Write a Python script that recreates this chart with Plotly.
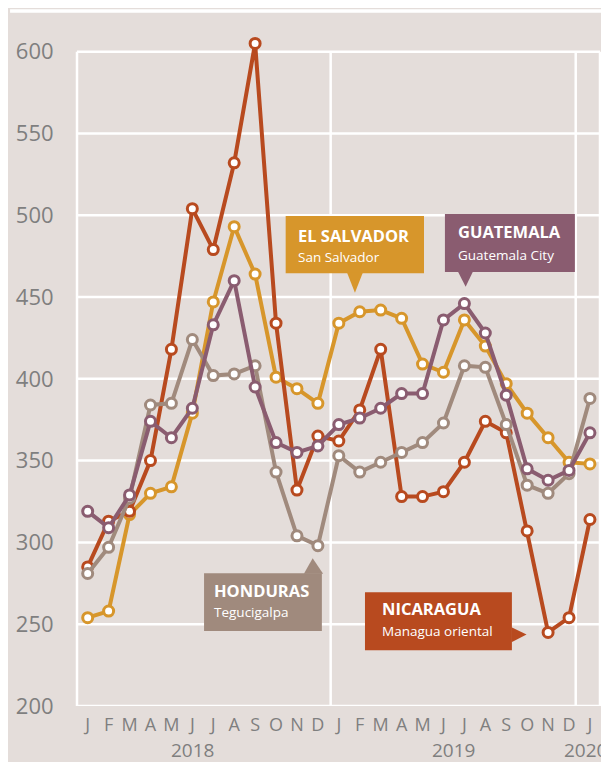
import plotly.graph_objects as go

months = ["J","F","M","A","M","J","J","A","S","O","N","D",
          "J","F","M","A","M","J","J","A","S","O","N","D","J"]
years = ["2018", "2019", "2020"]

el_salvador = [254, 258, 317, 330, 334, 379, 447, 493, 464, 401, 394, 385,
               434, 441, 442, 437, 409, 404, 436, 420, 397, 379, 364, 349, 348]
nicaragua = [285, 313, 319, 350, 418, 504, 479, 532, 605, 434, 332, 365,
             362, 381, 418, 328, 328, 331, 349, 374, 367, 307, 245, 254, 314]
honduras = [281, 297, 327, 384, 385, 424, 402, 403, 408, 343, 304, 298,
            353, 343, 349, 355, 361, 373, 408, 407, 372, 335, 330, 342, 388]
guatemala = [319, 309, 329, 374, 364, 382, 433, 460, 395, 361, 355, 359,
             372, 376, 382, 391, 391, 436, 446, 428, 390, 345, 338, 344, 367]

BG = "#E4DDDA"
C_ES = "#D7962B"
C_NI = "#B84A1F"
C_HO = "#A08A7D"
C_GU = "#8A5C70"
TICK = "#7F7F7F"
FONT = "Open Sans"

YMIN, YMAX, YTOP = 200, 600, 612
PX_PER_UNIT = 1.635
PLOT_H = (YTOP - YMIN) * PX_PER_UNIT
BOTTOM_PY = 705.7
def paper_y(py):
    return (BOTTOM_PY - py) / PLOT_H

x = list(range(len(months)))

fig = go.Figure()
for name, vals, col in [("El Salvador", el_salvador, C_ES),
                        ("Nicaragua", nicaragua, C_NI),
                        ("Honduras", honduras, C_HO),
                        ("Guatemala", guatemala, C_GU)]:
    fig.add_trace(go.Scatter(
        x=x, y=vals, mode="lines+markers", name=name,
        line=dict(color=col, width=4),
        marker=dict(size=10, color="white", line=dict(color=col, width=3)),
        cliponaxis=False, showlegend=False, hoverinfo="skip"))

shapes = []
for v in range(YMIN, YMAX + 1, 50):
    shapes.append(dict(type="line", xref="paper", yref="y", x0=0, x1=1, y0=v, y1=v,
                       line=dict(color="white", width=2.5), layer="below"))
for xp in [0, 1]:
    shapes.append(dict(type="line", xref="paper", yref="y", x0=xp, x1=xp, y0=YMIN, y1=YMAX,
                       line=dict(color="white", width=2.5), layer="below"))
for xs in [11.61, 23.32]:
    shapes.append(dict(type="line", xref="x", yref="y", x0=xs, x1=xs, y0=YMIN, y1=YMAX,
                       line=dict(color="white", width=2.5), layer="below"))
shapes.append(dict(type="line", xref="paper", yref="paper", x0=-0.128, x1=1.03,
                   y0=paper_y(11), y1=paper_y(11), line=dict(color="white", width=3.5)))

annotations = []

def label_box(x0, x1, y0, y1, tri, col, title, sub, tx, ty1, ty2):
    shapes.append(dict(type="rect", xref="x", yref="y", x0=x0, x1=x1, y0=y0, y1=y1,
                       fillcolor=col, line=dict(width=0), layer="above"))
    path = "M {} {} L {} {} L {} {} Z".format(*tri)
    shapes.append(dict(type="path", xref="x", yref="y", path=path,
                       fillcolor=col, line=dict(width=0), layer="above"))
    annotations.append(dict(x=tx, y=ty1, xref="x", yref="y", text="<b>" + title + "</b>",
                            showarrow=False, xanchor="left", yanchor="middle",
                            font=dict(family=FONT, size=16.5, color="white")))
    annotations.append(dict(x=tx, y=ty2, xref="x", yref="y", text=sub,
                            showarrow=False, xanchor="left", yanchor="middle",
                            font=dict(family=FONT, size=13.5, color="white")))

label_box(9.46, 16.07, 464.6, 499.5,
          (12.39, 465.0, 13.15, 465.0, 12.77, 452.6),
          C_ES, "EL SALVADOR", "San Salvador", 9.95, 487.9, 474.4)
label_box(17.07, 23.28, 465.3, 500.7,
          (17.69, 465.6, 18.41, 465.6, 18.06, 456.3),
          C_GU, "GUATEMALA", "Guatemala City", 17.6, 490.0, 475.6)
label_box(5.56, 11.19, 245.8, 281.2,
          (10.33, 280.8, 11.25, 280.8, 10.75, 290.3),
          C_HO, "HONDURAS", "Tegucigalpa", 5.94, 270.8, 257.4)
label_box(13.25, 20.27, 234.1, 269.5,
          (20.25, 248.1, 20.25, 238.9, 20.97, 243.7),
          C_NI, "NICARAGUA", "Managua oriental", 13.97, 259.4, 245.6)

yy = paper_y(750)
for xv, ref, anchor, txt in [(5.03, "x", "center", years[0]),
                             (17.5, "x", "center", years[1]),
                             (1.0172, "paper", "right", years[2])]:
    annotations.append(dict(x=xv, y=yy, xref=ref, yref="paper", text=txt,
                            showarrow=False, xanchor=anchor, yanchor="middle",
                            font=dict(family=FONT, size=19, color=TICK)))

fig.update_layout(
    width=601, height=754,
    margin=dict(l=69, r=9, t=(BOTTOM_PY - 8) - PLOT_H, b=754 - (BOTTOM_PY - 8), pad=0),
    paper_bgcolor=BG, plot_bgcolor=BG,
    shapes=shapes, annotations=annotations,
    xaxis=dict(range=[-0.511, 24.48], tickmode="array", tickvals=x, ticktext=months,
               showgrid=False, zeroline=False, showline=False, automargin=False,
               ticks="outside", ticklen=2, tickcolor="rgba(0,0,0,0)",
               tickfont=dict(family=FONT, size=18, color=TICK), fixedrange=True),
    yaxis=dict(range=[YMIN, YTOP], tickmode="array", tickvals=list(range(YMIN, YMAX + 1, 50)),
               showgrid=False, zeroline=False, showline=False, automargin=False,
               ticks="outside", ticklen=18, tickcolor="rgba(0,0,0,0)",
               tickfont=dict(family=FONT, size=22, color=TICK), fixedrange=True),
)

fig.write_html("out.html")
